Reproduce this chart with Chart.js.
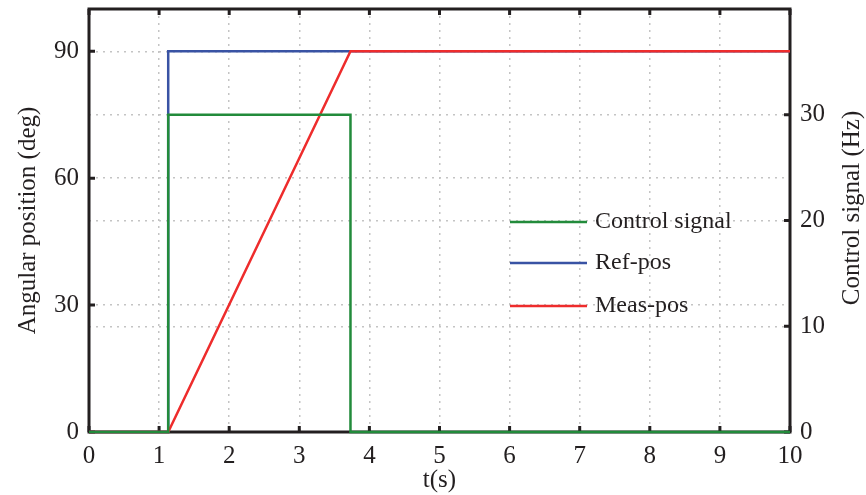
<!DOCTYPE html>
<html>
<head>
<meta charset="utf-8">
<script src="https://cdn.jsdelivr.net/npm/chart.js"></script>
<style>
  html, body { margin: 0; padding: 0; background: #fff; }
  #wrap { width: 866px; height: 495px; }
</style>
</head>
<body>
<div id="wrap"><canvas id="myChart" width="866" height="495"></canvas></div>
<script>
// breakpoints (time in s)
var ctrlT = [0, 1.13, 1.13, 3.73, 3.73, 10];
var ctrlV = [0, 0, 30, 30, 0, 0];          // Hz, right axis
var refT  = [0, 1.13, 1.13, 10];
var refV  = [0, 0, 90, 90];                // deg
var measT = [0, 1.13, 3.73, 10];
var measV = [0, 0, 90, 90];                // deg

var xTicks = [0, 1, 2, 3, 4, 5, 6, 7, 8, 9, 10];
var leftTicks = [0, 30, 60, 90];
var rightTicks = [0, 10, 20, 30];

var labels = ['Control signal', 'Ref-pos', 'Meas-pos'];
var colors = ['#228B3B', '#3953A4', '#EE2C2C'];

function pts(t, v) {
  return t.map(function (x, i) { return { x: x, y: v[i] }; });
}

var serif = "'Liberation Serif', 'DejaVu Serif', serif";
var ink = '#231F20';

// frame, inward ticks, right title and the legend
var framePlugin = {
  id: 'frame',
  beforeDatasetsDraw: function (chart) {
    var ctx = chart.ctx, a = chart.chartArea;
    var sx = chart.scales.x, yl = chart.scales.y, yr = chart.scales.y1;
    ctx.save();
    ctx.strokeStyle = ink;
    ctx.lineWidth = 3;
    ctx.strokeRect(a.left, a.top, a.right - a.left, a.bottom - a.top);
    var L = 6;
    ctx.beginPath();
    xTicks.forEach(function (v) {
      var px = sx.getPixelForValue(v);
      ctx.moveTo(px, a.bottom); ctx.lineTo(px, a.bottom - L);
      ctx.moveTo(px, a.top); ctx.lineTo(px, a.top + L);
    });
    leftTicks.forEach(function (v) {
      var py = yl.getPixelForValue(v);
      ctx.moveTo(a.left, py); ctx.lineTo(a.left + L, py);
    });
    rightTicks.forEach(function (v) {
      var py = yr.getPixelForValue(v);
      ctx.moveTo(a.right, py); ctx.lineTo(a.right - L, py);
    });
    ctx.stroke();

    // right axis title, reading bottom to top
    ctx.translate(852, 208);
    ctx.rotate(-Math.PI / 2);
    ctx.font = '25px ' + serif;
    ctx.fillStyle = ink;
    ctx.textAlign = 'center';
    ctx.textBaseline = 'middle';
    ctx.fillText('Control signal (Hz)', 0, 0);
    ctx.restore();
  },
  afterDatasetsDraw: function (chart) {
    var ctx = chart.ctx;
    var x0 = 510, x1 = 587, tx = 595;
    var rows = [222, 263, 306];
    ctx.save();
    ctx.font = '24px ' + serif;
    ctx.textBaseline = 'middle';
    ctx.fillStyle = ink;
    labels.forEach(function (lab, i) {
      ctx.strokeStyle = colors[i];
      ctx.lineWidth = 2.5;
      ctx.beginPath();
      ctx.moveTo(x0, rows[i]); ctx.lineTo(x1, rows[i]);
      ctx.stroke();
      ctx.fillText(lab, tx, rows[i]);
    });
    ctx.restore();
  }
};

var gridStyle = { color: '#C4C4C4', lineWidth: 1.5, drawTicks: false };
var noBorder = { display: false, dash: [2, 5] };

function fixPad(s) { s.paddingTop = 0; s.paddingBottom = 0; s.paddingLeft = 0; s.paddingRight = 0; }

new Chart(document.getElementById('myChart'), {
  type: 'line',
  data: {
    datasets: [
      { label: labels[0], data: pts(ctrlT, ctrlV), yAxisID: 'y1', borderColor: colors[0], order: 0 },
      { label: labels[1], data: pts(refT, refV), yAxisID: 'y', borderColor: colors[1], order: 2 },
      { label: labels[2], data: pts(measT, measV), yAxisID: 'y', borderColor: colors[2], order: 1 }
    ]
  },
  options: {
    responsive: false,
    animation: false,
    clip: false,
    layout: { padding: { top: 9, left: 0, right: 0, bottom: 0 } },
    elements: {
      line: { borderWidth: 2.5, tension: 0, fill: false },
      point: { radius: 0 }
    },
    plugins: { legend: { display: false }, tooltip: { enabled: false } },
    scales: {
      x: {
        type: 'linear', min: 0, max: 10,
        afterFit: function (s) { fixPad(s); s.height = 63; },
        afterBuildTicks: function (s) { s.ticks = xTicks.map(function (v) { return { value: v }; }); },
        grid: gridStyle,
        border: noBorder,
        ticks: { color: ink, font: { family: serif, size: 25 }, padding: 9, maxRotation: 0 },
        title: { display: true, text: 't(s)', color: ink, font: { family: serif, size: 25 }, padding: { top: -8, bottom: 0 } }
      },
      y: {
        type: 'linear', position: 'left', min: 0, max: 100,
        afterFit: function (s) { fixPad(s); s.width = 89; },
        afterBuildTicks: function (s) { s.ticks = leftTicks.map(function (v) { return { value: v }; }); },
        grid: gridStyle,
        border: noBorder,
        ticks: { color: ink, font: { family: serif, size: 25 }, padding: 10 },
        title: { display: true, text: 'Angular position (deg)', color: ink, font: { family: serif, size: 25 }, padding: { top: 13, bottom: 0 } }
      },
      y1: {
        type: 'linear', position: 'right', min: 0, max: 40,
        afterFit: function (s) { fixPad(s); s.width = 76; },
        afterBuildTicks: function (s) { s.ticks = rightTicks.map(function (v) { return { value: v }; }); },
        grid: gridStyle,
        border: noBorder,
        ticks: { color: ink, font: { family: serif, size: 25 }, padding: 10 }
      }
    }
  },
  plugins: [framePlugin]
});
</script>
</body>
</html>
